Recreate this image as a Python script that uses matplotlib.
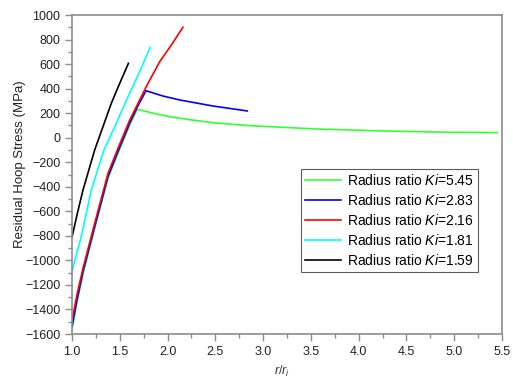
import matplotlib
matplotlib.use('Agg')
from matplotlib import pyplot as plt
from matplotlib.ticker import MultipleLocator

plt.rcParams['font.family'] = ['Liberation Sans', 'DejaVu Sans']
plt.rcParams['mathtext.fontset'] = 'custom'
plt.rcParams['mathtext.rm'] = 'Liberation Sans'
plt.rcParams['mathtext.it'] = 'Liberation Sans:italic'

# 读取图上的曲线点 (r/ri, MPa)
r_545 = [1.0, 1.05, 1.115, 1.237, 1.377, 1.474, 1.604, 1.683, 1.85, 2.025, 2.25, 2.478, 2.862, 3.56, 4.256, 4.954, 5.45]
s_545 = [-1560, -1350, -1110, -740, -330, -140, 105, 231, 200, 171, 145, 122, 98, 71, 55, 44, 42]

r_283 = [1.0, 1.05, 1.115, 1.237, 1.377, 1.474, 1.604, 1.683, 1.774, 1.95, 2.13, 2.478, 2.834]
s_283 = [-1540, -1330, -1090, -725, -315, -125, 120, 250, 383, 340, 307, 258, 218]

r_216 = [1.0, 1.05, 1.115, 1.237, 1.377, 1.474, 1.604, 1.777, 1.917, 2.039, 2.161]
s_216 = [-1490, -1285, -1064, -698, -290, -100, 144, 416, 619, 755, 900]

r_181 = [1.0, 1.05, 1.097, 1.202, 1.335, 1.463, 1.586, 1.708, 1.819]
s_181 = [-1090, -940, -807, -426, -100, 117, 334, 538, 737]

r_159 = [1.0, 1.056, 1.115, 1.237, 1.324, 1.411, 1.499, 1.59]
s_159 = [-810, -616, -426, -100, 90, 280, 443, 606]

ki_list = ['5.45', '2.83', '2.16', '1.81', '1.59']
color_list = ['#33ff33', '#0000ff', '#ff0000', '#00ffff', '#000000']

fig = plt.figure(figsize=(5.13, 3.79), dpi=100)
ax = fig.add_axes([0.1404, 0.1187, 0.8382, 0.8417])

data = [(r_545, s_545), (r_283, s_283), (r_216, s_216), (r_181, s_181), (r_159, s_159)]
for (r, s), ki, c in zip(data, ki_list, color_list):
    ax.plot(r, s, color=c, lw=1.2, label=r'Radius ratio $\mathit{Ki}$=' + ki)

ax.set_xlim(1.0, 5.5)
ax.set_ylim(-1600, 1000)
ax.xaxis.set_major_locator(MultipleLocator(0.5))
ax.xaxis.set_minor_locator(MultipleLocator(0.25))
ax.yaxis.set_major_locator(MultipleLocator(200))
ax.yaxis.set_minor_locator(MultipleLocator(100))
ax.xaxis.set_major_formatter(plt.FormatStrFormatter('%.1f'))

for sp in ax.spines.values():
    sp.set_color('#8c8c8c')
    sp.set_linewidth(1.2)
ax.tick_params(which='both', direction='out', color='#8c8c8c', labelsize=9, labelcolor='#222222')
ax.tick_params(which='major', length=5, width=1)
ax.tick_params(which='minor', length=3, width=1)

ax.set_xlabel(r'$r/r_i$', fontsize=9, color='#333333')
ax.set_ylabel('Residual Hoop Stress (MPa)', fontsize=9.5, color='#222222')
ax.xaxis.set_label_coords(0.488, -0.095)
ax.yaxis.set_label_coords(-0.108, 0.533)

leg = ax.legend(loc='upper left', bbox_to_anchor=(0.533, 0.517), fontsize=10,
                frameon=True, fancybox=False, borderpad=0.3, labelspacing=0.35,
                handlelength=2.6, handletextpad=0.4, borderaxespad=0)
leg.get_frame().set_edgecolor('#333333')
leg.get_frame().set_linewidth(0.8)

plt.savefig('out.png', dpi=100)
